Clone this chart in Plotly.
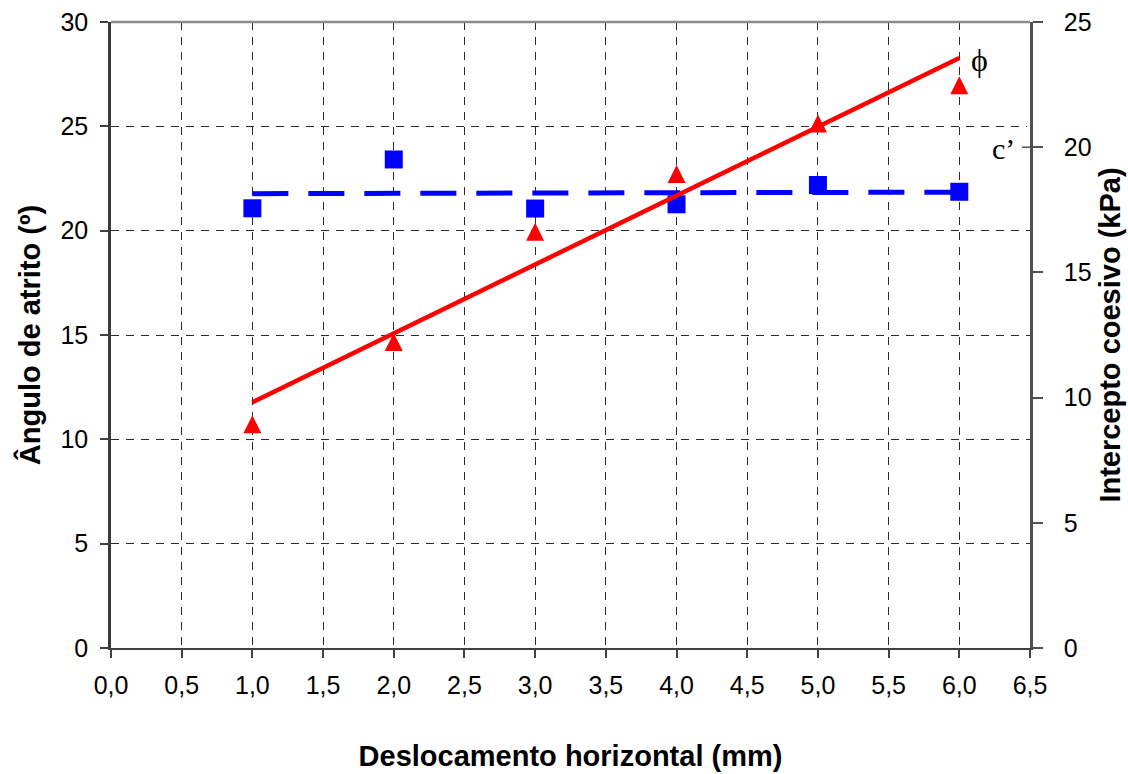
import numpy as np
import plotly.graph_objects as go

# Deslocamento horizontal (mm)
deslocamento = [1.0, 2.0, 3.0, 4.0, 5.0, 6.0]
# Ângulo de atrito (graus)
angulo_atrito = [10.72, 14.66, 19.95, 22.72, 25.14, 26.97]
# Intercepto coesivo (kPa)
intercepto_coesivo = [17.56, 19.51, 17.55, 17.72, 18.49, 18.22]

x_ticks = [0.0, 0.5, 1.0, 1.5, 2.0, 2.5, 3.0, 3.5, 4.0, 4.5, 5.0, 5.5, 6.0, 6.5]
left_ticks = [0, 5, 10, 15, 20, 25, 30]
right_ticks = [0, 5, 10, 15, 20, 25]

# Linear trend lines (least squares) for each series
xs = np.array(deslocamento)
p_phi = np.polyfit(xs, angulo_atrito, 1)
p_c = np.polyfit(xs, intercepto_coesivo, 1)
x_fit = [xs.min(), xs.max()]
phi_fit = list(np.polyval(p_phi, x_fit))
c_fit = list(np.polyval(p_c, x_fit))

BLUE = "#0000FF"
RED = "#FF0000"
AXIS = "#404040"
FONT = "Liberation Sans, Arial, sans-serif"
SERIF = "Liberation Serif, Times New Roman, serif"

fig = go.Figure()

# c' (right axis, base y)
fig.add_trace(go.Scatter(
    x=deslocamento, y=intercepto_coesivo, mode="markers", yaxis="y",
    marker=dict(symbol="square", size=18, color=BLUE, line=dict(width=0)),
    showlegend=False, hoverinfo="skip"))
fig.add_trace(go.Scatter(
    x=x_fit, y=c_fit, mode="lines", yaxis="y",
    line=dict(color=BLUE, width=5, dash="36px,20px"),
    showlegend=False, hoverinfo="skip"))

# phi (left axis, overlaying y2)
fig.add_trace(go.Scatter(
    x=deslocamento, y=angulo_atrito, mode="markers", yaxis="y2",
    marker=dict(symbol="arrow-down", angle=180, standoff=9, size=18,
                color=RED, line=dict(width=0)),
    showlegend=False, hoverinfo="skip"))
fig.add_trace(go.Scatter(
    x=x_fit, y=phi_fit, mode="lines", yaxis="y2",
    line=dict(color=RED, width=4.5),
    showlegend=False, hoverinfo="skip"))

grid = dict(showgrid=True, gridcolor="#2a2a2a", gridwidth=1, griddash="8px,7px")

fig.update_layout(
    width=1128, height=774, autosize=False,
    margin=dict(l=111, r=98, t=22, b=126, pad=0, autoexpand=False),
    paper_bgcolor="white", plot_bgcolor="white",
    separators=",.",
    font=dict(family=FONT, size=25, color="black"),
    xaxis=dict(
        range=[0, 6.5], tickvals=x_ticks, tickformat=".1f", automargin=False,
        ticks="outside", ticklen=8, tickwidth=1.5, tickcolor=AXIS,
        showline=True, linecolor=AXIS, linewidth=2, zeroline=False,
        ticklabelstandoff=6,
        title=dict(text="<b>Deslocamento horizontal (mm)</b>", standoff=48,
                   font=dict(size=29, family=FONT)),
        **grid),
    yaxis=dict(
        range=[0, 25], tickvals=right_ticks, side="right", automargin=False,
        ticks="outside", ticklen=10, tickwidth=1.5, tickcolor="#505050",
        showline=True, linecolor="#505050", linewidth=2.5, zeroline=False,
        showgrid=False, ticklabelstandoff=16,
        title=dict(text="<b>Intercepto coesivo (kPa)</b>", standoff=10,
                   font=dict(size=29, family=FONT))),
    yaxis2=dict(
        range=[0, 30], tickvals=left_ticks, side="left", overlaying="y",
        automargin=False,
        ticks="outside", ticklen=8, tickwidth=1.5, tickcolor=AXIS,
        showline=True, linecolor="#3a3a3a", linewidth=2.5, zeroline=False,
        ticklabelstandoff=7,
        title=dict(text="<b>Ângulo de atrito (º)</b>", standoff=12,
                   font=dict(size=29, family=FONT)),
        **grid),
    yaxis3=dict(
        range=[0, 25], tickvals=right_ticks, side="right", overlaying="y",
        automargin=False,
        ticks="inside", ticklen=8, tickwidth=1.5, tickcolor="#505050",
        showticklabels=False, showgrid=False, showline=False, zeroline=False),
)

# top frame line
fig.add_shape(type="line", xref="paper", yref="paper", x0=0, x1=1, y0=1, y1=1,
              line=dict(color="#8c8c8c", width=2.5), layer="above")

# break in the right axis line behind the c' label, with its 20 tick
fig.add_shape(type="rect", xref="x", yref="y", x0=6.48, x1=6.53, y0=18.33, y1=21.29,
              line=dict(width=0), fillcolor="white", layer="above")
fig.add_shape(type="line", xref="x", yref="y", x0=6.443, x1=6.571, y0=20, y1=20,
              line=dict(color="#505050", width=1.5), layer="above")

# series labels
fig.add_annotation(x=x_fit[1], y=phi_fit[1], xref="x", yref="y2", text="ϕ",
                   showarrow=False, xshift=20, yshift=-2,
                   font=dict(family=SERIF, size=32, color="black"))
fig.add_annotation(x=6.31, y=19.95, xref="x", yref="y", text="c’",
                   showarrow=False,
                   font=dict(family=SERIF, size=30, color="black"))

fig.write_html("out.html")
